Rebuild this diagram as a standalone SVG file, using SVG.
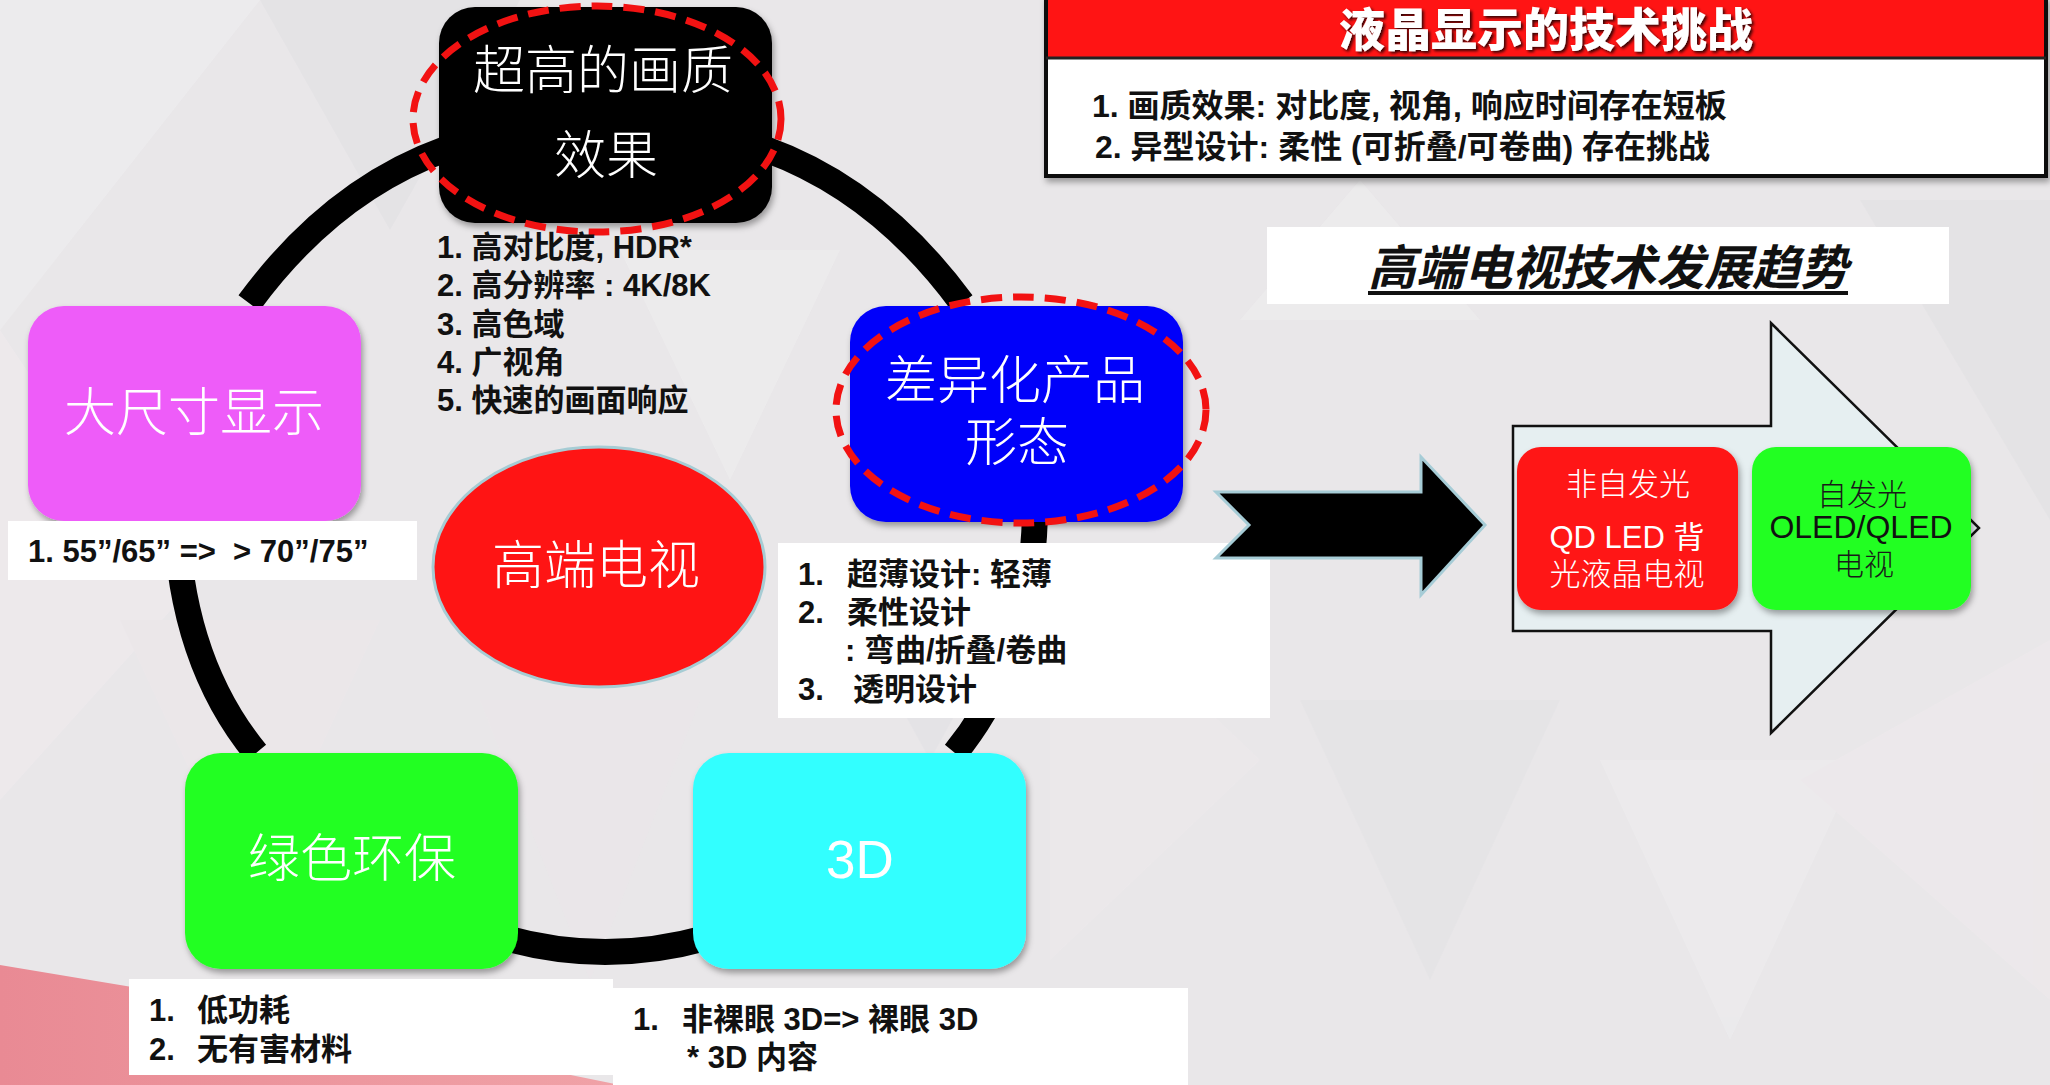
<svg xmlns="http://www.w3.org/2000/svg" width="2050" height="1085" viewBox="0 0 2050 1085">
<defs>
  <filter id="sh" x="-10%" y="-10%" width="125%" height="130%">
    <feDropShadow dx="2" dy="4" stdDeviation="3" flood-color="#000" flood-opacity="0.35"/>
  </filter>
  <filter id="tsh" x="-5%" y="-20%" width="110%" height="150%">
    <feDropShadow dx="2" dy="2" stdDeviation="1.5" flood-color="#000" flood-opacity="0.8"/>
  </filter>
  <linearGradient id="pink" x1="0" y1="0" x2="1" y2="0">
    <stop offset="0" stop-color="#E98A94"/>
    <stop offset="1" stop-color="#F0A2A7"/>
  </linearGradient>
  <style>
    .ncjk { font-family: "Noto Sans CJK SC", sans-serif; font-weight: 300; fill: #ffffff; font-size: 52px; text-anchor: middle; }
    .lst { font-family: "Liberation Sans", "Noto Sans CJK SC", sans-serif; font-weight: bold; font-size: 31px; fill: #111111; }
    .arc { fill: none; stroke: #000000; stroke-width: 26; stroke-linecap: butt; }
    .lbl { fill: #ffffff; }
    .dash { fill: none; stroke: #F21212; stroke-width: 7; stroke-dasharray: 21 11; }
    .tri { stroke: none; }
  </style>
</defs>

<!-- background -->
<rect x="0" y="0" width="2050" height="1085" fill="#E9E7E9"/>
<g id="bg-pattern" opacity="0.35">
  <polygon class="tri" points="0,0 260,0 0,330" fill="#F4F4F5"/>
  <polygon class="tri" points="260,0 520,0 390,230" fill="#DCDCE0"/>
  <polygon class="tri" points="0,330 180,600 0,800" fill="#F5EDF1"/>
  <polygon class="tri" points="120,620 380,620 250,900" fill="#F1E7EB"/>
  <polygon class="tri" points="620,250 840,250 730,480" fill="#F3F3F4"/>
  <polygon class="tri" points="820,560 1040,560 930,760" fill="#DEDDE2"/>
  <polygon class="tri" points="1050,560 1260,760 1050,960" fill="#F1EAEE"/>
  <polygon class="tri" points="1300,700 1560,700 1430,980" fill="#DFDFE3"/>
  <polygon class="tri" points="1600,760 1860,760 1730,1040" fill="#F2F2F3"/>
  <polygon class="tri" points="1860,200 2050,200 2050,520" fill="#DCDCE0"/>
  <polygon class="tri" points="1240,320 1480,320 1360,180" fill="#F3F3F4"/>
  <polygon class="tri" points="1800,780 2050,640 2050,1000" fill="#F3ECEF"/>
  <polygon class="tri" points="480,700 700,700 590,980" fill="#EEE6EA"/>
</g>
<polygon points="0,965 150,990 620,1085 0,1085" fill="url(#pink)"/>

<!-- connectors -->
<g id="connectors">
  <path class="arc" d="M 249 303 Q 332 190 446 149"/>
  <path class="arc" d="M 962 303 Q 879 190 765 149"/>
  <path class="arc" d="M 176 515 Q 180 660 256 753"/>
  <path class="arc" d="M 1035 515 Q 1031 660 955 753"/>
  <path class="arc" d="M 505 938 Q 605 966 706 938"/>
</g>

<!-- top node -->
<g id="node-quality">
  <rect x="439" y="7" width="333" height="216" rx="36" fill="#000000" filter="url(#sh)"/>
  <text class="ncjk" x="603" y="89">超高的画质</text>
  <text class="ncjk" x="606" y="174">效果</text>
  <ellipse class="dash" cx="597" cy="119" rx="184" ry="113"/>
</g>
<g id="label-quality">
  <text class="lst" x="437" y="258">1. 高对比度, HDR*</text>
  <text class="lst" x="437" y="296">2. 高分辨率 : 4K/8K</text>
  <text class="lst" x="437" y="335">3. 高色域</text>
  <text class="lst" x="437" y="373">4. 广视角</text>
  <text class="lst" x="437" y="411">5. 快速的画面响应</text>
</g>

<!-- large size node -->
<g id="node-large">
  <rect x="28" y="306" width="333" height="215" rx="36" fill="#EE5CF9" filter="url(#sh)"/>
  <text class="ncjk" x="194" y="431">大尺寸显示</text>
</g>
<g id="label-large">
  <rect class="lbl" x="8" y="521" width="409" height="59"/>
  <text class="lst" x="28" y="562" font-size="33" style="white-space:pre">1. 55”/65” =&gt;  &gt; 70”/75”</text>
</g>

<!-- differentiated node -->
<g id="node-diff">
  <rect x="850" y="306" width="333" height="216" rx="36" fill="#0000FA" filter="url(#sh)"/>
  <text class="ncjk" x="1015" y="399">差异化产品</text>
  <text class="ncjk" x="1017" y="461">形态</text>
  <ellipse class="dash" cx="1021" cy="410" rx="185" ry="113"/>
</g>
<g id="label-diff">
  <rect class="lbl" x="778" y="543" width="492" height="175"/>
  <text class="lst"><tspan x="798" y="585">1.</tspan><tspan x="847" y="585">超薄设计: 轻薄</tspan></text>
  <text class="lst"><tspan x="798" y="623">2.</tspan><tspan x="847" y="623">柔性设计</tspan></text>
  <text class="lst" x="845" y="661">: 弯曲/折叠/卷曲</text>
  <text class="lst"><tspan x="798" y="700">3.</tspan><tspan x="853" y="700">透明设计</tspan></text>
</g>

<!-- center node -->
<g id="node-center">
  <ellipse cx="599" cy="567" rx="166" ry="120" fill="#FF1414" stroke="#A6CCD4" stroke-width="3"/>
  <text class="ncjk" x="596" y="584" font-size="47">高端电视</text>
</g>

<!-- green node -->
<g id="node-green">
  <rect x="185" y="753" width="333" height="216" rx="36" fill="#22FF22" filter="url(#sh)"/>
  <text class="ncjk" x="352" y="877">绿色环保</text>
</g>
<g id="label-green">
  <rect class="lbl" x="129" y="979" width="484" height="96"/>
  <text class="lst"><tspan x="149" y="1021">1.</tspan><tspan x="197" y="1021">低功耗</tspan></text>
  <text class="lst"><tspan x="149" y="1060">2.</tspan><tspan x="197" y="1060">无有害材料</tspan></text>
</g>

<!-- 3D node -->
<g id="node-3d">
  <rect x="693" y="753" width="333" height="216" rx="36" fill="#33FFFF" filter="url(#sh)"/>
  <text x="860" y="878" font-family="Liberation Sans, sans-serif" font-size="53" fill="#ffffff" text-anchor="middle">3D</text>
</g>
<g id="label-3d">
  <rect class="lbl" x="613" y="988" width="575" height="97"/>
  <text class="lst"><tspan x="633" y="1030">1.</tspan><tspan x="682" y="1030">非裸眼 3D=&gt; 裸眼 3D</tspan></text>
  <text class="lst" x="687" y="1068">* 3D 内容</text>
</g>

<!-- challenge table -->
<g id="table-challenge">
  <rect x="1046" y="-2" width="1000" height="178" fill="#ffffff" stroke="#111111" stroke-width="4" filter="url(#sh)"/>
  <rect x="1048" y="0" width="996" height="57" fill="#FF1414"/>
  <line x1="1046" y1="58" x2="2046" y2="58" stroke="#222222" stroke-width="3"/>
  <text x="1546" y="46" font-family="Noto Sans CJK SC, sans-serif" font-weight="900" font-size="46" fill="#ffffff" text-anchor="middle" filter="url(#tsh)">液晶显示的技术挑战</text>
  <text x="1092" y="117" font-family="Liberation Sans, Noto Sans CJK SC, sans-serif" font-weight="bold" font-size="32" fill="#111111">1. 画质效果: 对比度, 视角, 响应时间存在短板</text>
  <text x="1095" y="158" font-family="Liberation Sans, Noto Sans CJK SC, sans-serif" font-weight="bold" font-size="32" fill="#111111">2. 异型设计: 柔性 (可折叠/可卷曲) 存在挑战</text>
</g>

<!-- trend title -->
<g id="title-trend">
  <rect x="1267" y="227" width="682" height="77" fill="#ffffff"/>
  <text x="1608" y="285" font-family="Noto Sans CJK SC, sans-serif" font-weight="bold" font-style="italic" font-size="48" fill="#111111" text-anchor="middle">高端电视技术发展趋势</text>
  <line x1="1368" y1="293" x2="1848" y2="293" stroke="#111111" stroke-width="4"/>
</g>

<!-- black arrow -->
<g id="arrow-black">
  <polygon points="1216,492 1421,492 1421,457 1485,525 1421,595 1421,558 1216,558 1249,525" fill="#000000" stroke="#A6CCD6" stroke-width="3" stroke-linejoin="miter"/>
</g>

<!-- big trend arrow -->
<g id="arrow-trend">
  <polygon points="1513,426 1771,426 1771,323 1979,528 1771,733 1771,631 1513,631" fill="#E6EFF1" stroke="#111111" stroke-width="2.5"/>
</g>
<g id="node-nonemissive">
  <rect x="1517" y="447" width="221" height="163" rx="24" fill="#FF1414" filter="url(#sh)"/>
  <text x="1628" y="495" font-family="Noto Sans CJK SC, sans-serif" font-weight="300" font-size="31" fill="#ffffff" text-anchor="middle">非自发光</text>
  <text x="1627" y="548" font-family="Liberation Sans, Noto Sans CJK SC, sans-serif" font-size="31" fill="#ffffff" text-anchor="middle">QD LED 背</text>
  <text x="1627" y="585" font-family="Noto Sans CJK SC, sans-serif" font-weight="300" font-size="31" fill="#ffffff" text-anchor="middle">光液晶电视</text>
</g>
<g id="node-emissive">
  <rect x="1752" y="447" width="219" height="163" rx="24" fill="#22FF22" filter="url(#sh)"/>
  <text x="1862" y="505" font-family="Noto Sans CJK SC, sans-serif" font-weight="300" font-size="30" fill="#1a1a1a" text-anchor="middle">自发光</text>
  <text x="1861" y="538" font-family="Liberation Sans, sans-serif" font-size="32" fill="#111111" text-anchor="middle">OLED/QLED</text>
  <text x="1864" y="575" font-family="Noto Sans CJK SC, sans-serif" font-weight="300" font-size="30" fill="#1a1a1a" text-anchor="middle">电视</text>
</g>
</svg>
